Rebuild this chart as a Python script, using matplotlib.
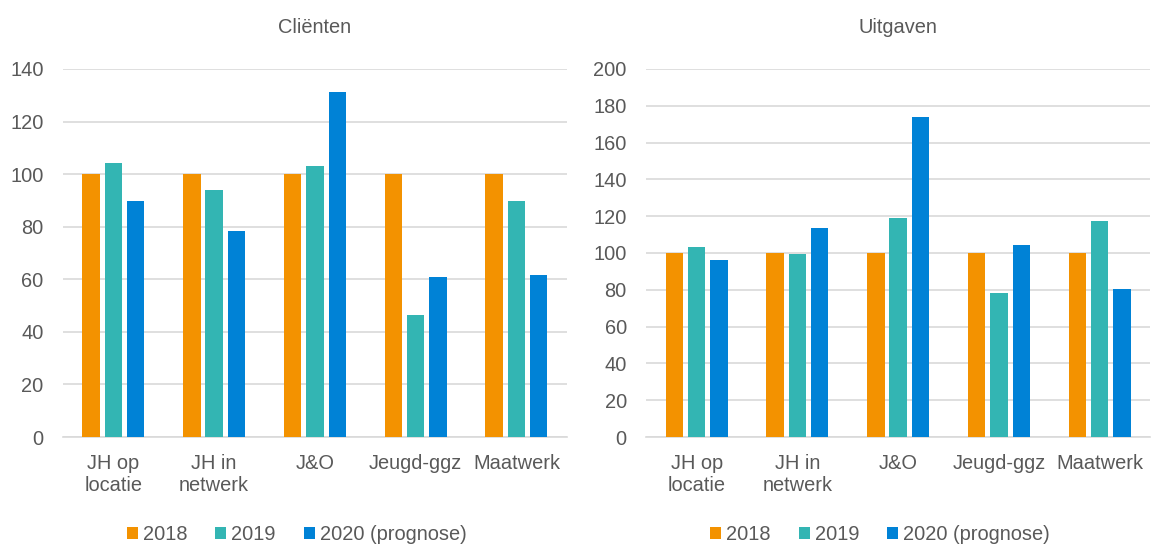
import matplotlib.pyplot as plt
import numpy as np

plt.rcParams['font.family'] = ['Liberation Sans', 'DejaVu Sans']

# categories and series
categories = ['JH op\nlocatie', 'JH in\nnetwerk', 'J&O', 'Jeugd-ggz', 'Maatwerk']
series_names = ['2018', '2019', '2020 (prognose)']

clienten_2018 = [100, 100, 100, 100, 100]
clienten_2019 = [104.2, 94.0, 103.2, 46.6, 89.7]
clienten_2020 = [89.8, 78.4, 131.4, 60.9, 61.5]

uitgaven_2018 = [100, 100, 100, 100, 100]
uitgaven_2019 = [103.4, 99.5, 119.2, 78.2, 117.6]
uitgaven_2020 = [96.0, 113.4, 173.9, 104.2, 80.2]

colors = ['#F39200', '#33B5B3', '#0082D6']
text_color = '#595959'
grid_color = '#D9D9D9'
fs = 14.4

fig = plt.figure(figsize=(11.52, 5.47), dpi=100)
ax1 = fig.add_axes([0.0547, 0.201, 0.4373, 0.673])
ax2 = fig.add_axes([0.561, 0.201, 0.4373, 0.673])


def draw(ax, data, title, ymax, step):
    x = np.arange(len(categories))
    width = 0.172
    offset = 0.221
    for i, vals in enumerate(data):
        ax.bar(x + (i - 1) * offset, vals, width, color=colors[i],
               label=series_names[i], zorder=3)
    ax.set_xlim(-0.5, len(categories) - 0.5)
    ax.set_ylim(0, ymax)
    ax.set_yticks(np.arange(0, ymax + 1, step))
    ax.set_xticks(x)
    ax.set_xticklabels(categories, linespacing=1.2)
    ax.yaxis.grid(True, color=grid_color, linewidth=1.2, zorder=0)
    for s in ['top', 'right', 'left']:
        ax.spines[s].set_visible(False)
    ax.spines['bottom'].set_color(grid_color)
    ax.spines['bottom'].set_linewidth(1.2)
    ax.tick_params(axis='both', length=0, labelsize=fs, colors=text_color)
    ax.tick_params(axis='y', pad=14)
    ax.tick_params(axis='x', pad=12.5)
    ax.set_title(title, fontsize=fs, color=text_color, pad=26)
    ax.legend(loc='center', bbox_to_anchor=(0.464, -0.266), ncol=3,
              frameon=False, fontsize=fs, labelcolor=text_color,
              handlelength=0.55, handleheight=0.55, handletextpad=0.25,
              columnspacing=1.4, borderpad=0)


draw(ax1, [clienten_2018, clienten_2019, clienten_2020], 'Cliënten', 140, 20)
draw(ax2, [uitgaven_2018, uitgaven_2019, uitgaven_2020], 'Uitgaven', 200, 20)

fig.savefig('out.png', dpi=100)
